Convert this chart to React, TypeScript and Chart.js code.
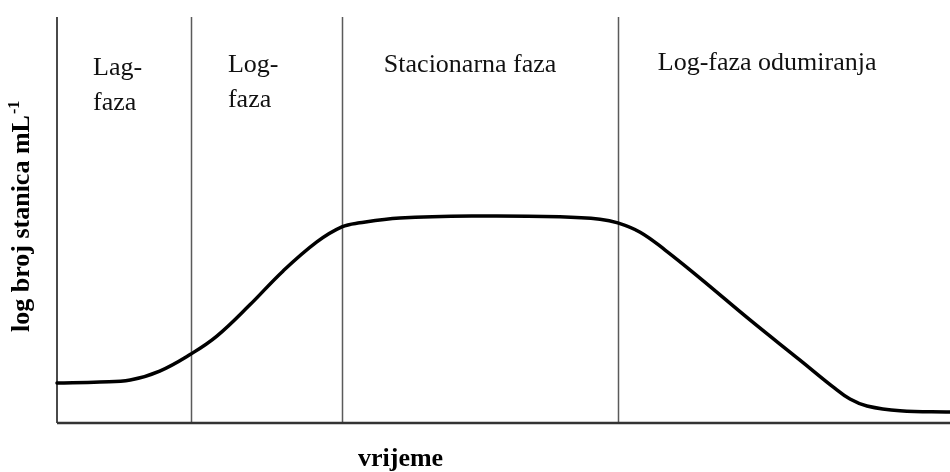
import React, { useEffect, useRef } from "react";
import { Chart, registerables } from "chart.js";

Chart.register(...registerables);

// time (arbitrary units, 0..100)
const timePoints = [0, 4.8, 8.2, 11.5, 15.0, 17.9, 21.6, 25.3, 29.1, 31.9, 33.9, 38.4, 47.4, 56.3, 60.8, 62.8, 65.3, 68.1, 72.0, 77.6, 83.2, 86.9, 88.8, 90.7, 94.4, 100];
// log cell count (arbitrary units, 0..100)
const logCounts = [9.85, 10.1, 10.6, 12.8, 17.0, 21.4, 29.1, 37.4, 44.6, 48.3, 49.3, 50.5, 51.0, 50.8, 50.2, 49.3, 47.0, 42.6, 35.7, 25.4, 15.5, 8.9, 5.9, 4.2, 3.0, 2.7];
// phase boundaries on the time axis
const phaseBoundaries = [15.0, 31.9, 62.8];
const phaseLabels = [["Lag-", "faza"], ["Log-", "faza"], ["Stacionarna faza"], ["Log-faza odumiranja"]];
const xTitle = "vrijeme";
const yTitle = "log broj stanica mL";
const yTitleSup = "-1";

const SERIF = '"Liberation Serif", "Times New Roman", Times, serif';

const decorPlugin = {
  id: "decor",
  beforeDatasetsDraw(chart: any) {
    const { ctx, chartArea, scales } = chart;
    const xs = scales.x;
    ctx.save();
    // phase boundary lines
    ctx.strokeStyle = "#5a5a5a";
    ctx.lineWidth = 1.5;
    phaseBoundaries.forEach((b) => {
      const px = Math.round(xs.getPixelForValue(b)) + 0.5;
      ctx.beginPath();
      ctx.moveTo(px, chartArea.top);
      ctx.lineTo(px, chartArea.bottom);
      ctx.stroke();
    });
    // y axis
    ctx.strokeStyle = "#4a4a4a";
    ctx.lineWidth = 2;
    ctx.beginPath();
    ctx.moveTo(chartArea.left, chartArea.top);
    ctx.lineTo(chartArea.left, chartArea.bottom);
    ctx.stroke();
    // x axis
    ctx.strokeStyle = "#333";
    ctx.lineWidth = 2.5;
    ctx.beginPath();
    ctx.moveTo(chartArea.left, chartArea.bottom);
    ctx.lineTo(chartArea.right, chartArea.bottom);
    ctx.stroke();

    // phase labels
    ctx.fillStyle = "#111";
    ctx.font = "26px " + SERIF;
    ctx.textAlign = "left";
    ctx.textBaseline = "alphabetic";
    const starts = [xs.min, ...phaseBoundaries];
    const offsets = [36, 37, 42, 40];
    const baselines = [75, 72, 72, 70];
    phaseLabels.forEach((lines, i) => {
      const left = xs.getPixelForValue(starts[i]) + offsets[i];
      lines.forEach((t, j) => {
        ctx.fillText(t, left, baselines[i] + j * 35);
      });
    });

    // x title
    ctx.font = "bold 26px " + SERIF;
    ctx.fillStyle = "#000";
    ctx.fillText(xTitle, 358, 466);

    // y title (rotated)
    ctx.save();
    ctx.translate(29, 332);
    ctx.rotate(-Math.PI / 2);
    ctx.font = "bold 26px " + SERIF;
    ctx.fillText(yTitle, 0, 0);
    const w = ctx.measureText(yTitle).width;
    ctx.font = "bold 16px " + SERIF;
    ctx.fillText(yTitleSup, w + 1, -10);
    ctx.restore();

    ctx.restore();
  },
};

export default function App() {
  const ref = useRef<HTMLCanvasElement | null>(null);
  useEffect(() => {
    if (!ref.current) return;
    const chart = new Chart(ref.current, {
      type: "line",
      data: {
        datasets: [
          {
            data: timePoints.map((t, i) => ({ x: t, y: logCounts[i] })),
            borderColor: "#000",
            borderWidth: 3.5,
            pointRadius: 0,
            fill: false,
            tension: 0.4,
            borderCapStyle: "round",
            borderJoinStyle: "round",
            clip: false as any,
          },
        ],
      },
      options: {
        animation: false,
        responsive: false,
        devicePixelRatio: 1,
        layout: { padding: { left: 57, right: 0, top: 17, bottom: 49 } },
        plugins: { legend: { display: false }, tooltip: { enabled: false }, title: { display: false } },
        scales: {
          x: { type: "linear", min: 0, max: 100, display: false },
          y: { type: "linear", min: 0, max: 100, display: false },
        },
      },
      plugins: [decorPlugin],
    });
    return () => chart.destroy();
  }, []);
  return (
    <div style={{ position: "fixed", left: 0, top: 0, width: 950, height: 472, background: "#fff" }}>
      <canvas ref={ref} width={950} height={472} />
    </div>
  );
}
